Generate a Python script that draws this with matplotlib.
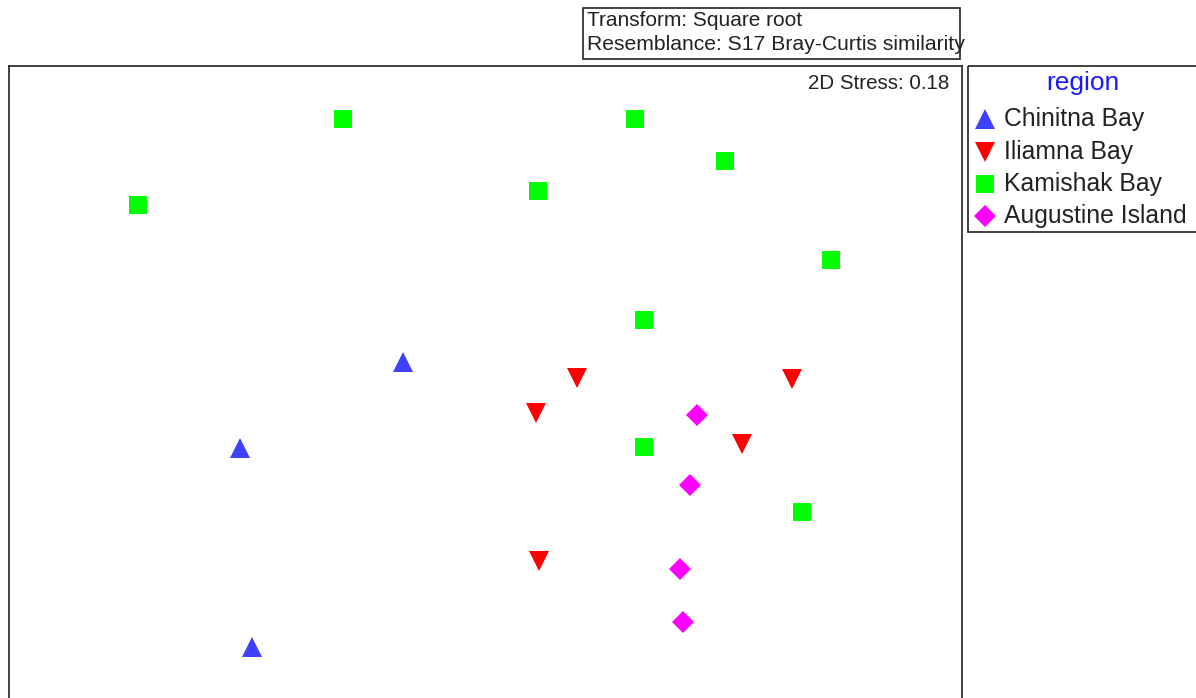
import numpy as np
import matplotlib.pyplot as plt
from matplotlib.patches import Rectangle

plt.rcParams['font.family'] = ['Liberation Sans', 'DejaVu Sans']

## nMDS ordination (arbitrary units)
regions = ['Chinitna Bay', 'Iliamna Bay', 'Kamishak Bay', 'Augustine Island']
chinitna_x = [-0.485, -1.30, -1.24]
chinitna_y = [0.19, -0.24, -1.23]
iliamna_x = [0.385, 0.18, 1.46, 1.21, 0.195]
iliamna_y = [0.11, -0.065, 0.105, -0.22, -0.80]
kamishak_x = [-0.785, 0.675, 1.125, 0.19, -1.81, 1.655, 0.72, 0.72, 1.51]
kamishak_y = [1.405, 1.405, 1.195, 1.045, 0.975, 0.70, 0.40, -0.235, -0.56]
augustine_x = [0.985, 0.95, 0.90, 0.915]
augustine_y = [-0.075, -0.425, -0.84, -1.105]
stress = 0.18

series = [(chinitna_x, chinitna_y), (iliamna_x, iliamna_y),
          (kamishak_x, kamishak_y), (augustine_x, augustine_y)]
# marker styles: (marker, color, size)
styles = [('^', '#4040FF', 14), ('v', '#FF0000', 14),
          ('s', '#00FF00', 13), ('D', '#FF00FF', 11)]

W, H = 1196, 698
fig = plt.figure(figsize=(W / 100, H / 100), dpi=100)

# main plot, bottom edge runs off the figure
ax = fig.add_axes([9 / W, -0.001, 953 / W, (698 - 66) / H + 0.001])
for (xs, ys), (m, col, ms) in zip(series, styles):
    ax.plot(xs, ys, linestyle='none', marker=m, color=col, markersize=ms,
            markeredgewidth=0)
ax.set_xlim(-2.455, 2.31)
ax.set_ylim(-1.49, 1.67)
ax.set_xticks([])
ax.set_yticks([])
for s in ['left', 'right', 'top']:
    ax.spines[s].set_linewidth(1.2)
    ax.spines[s].set_color('#222222')
ax.spines['bottom'].set_visible(False)
ax.text(0.987, 0.972, '2D Stress: %.2f' % stress, transform=ax.transAxes,
        ha='right', va='center', fontsize=14.8, color='#222222')

# overlay in pixel coords for the boxes
ov = fig.add_axes([0, 0, 1, 1], facecolor='none')
ov.set_xlim(0, W)
ov.set_ylim(H, 0)
ov.axis('off')

ov.add_patch(Rectangle((583, 8), 377, 51, fill=False, lw=1.2, ec='#222222'))
ov.text(587, 20, 'Transform: Square root', ha='left', va='center',
        fontsize=15, color='#222222')
ov.text(587, 45, 'Resemblance: S17 Bray-Curtis similarity', ha='left',
        va='center', fontsize=15.2, color='#222222')

# legend box
ov.add_patch(Rectangle((968, 66), 240, 166, fill=False, lw=1.2, ec='#222222',
                       clip_on=False))
ov.text(1083, 83, 'region', ha='center', va='center', fontsize=19,
        color='#1a1aff')
leg_y = [119, 152, 184, 216]
for name, (m, col, ms), yy in zip(regions, styles, leg_y):
    ov.plot([985], [yy], linestyle='none', marker=m, color=col,
            markersize=ms, markeredgewidth=0)
    ov.text(1004, yy, name, ha='left', va='center', fontsize=17.8,
            color='#222222')

plt.savefig('out.png', dpi=100)
